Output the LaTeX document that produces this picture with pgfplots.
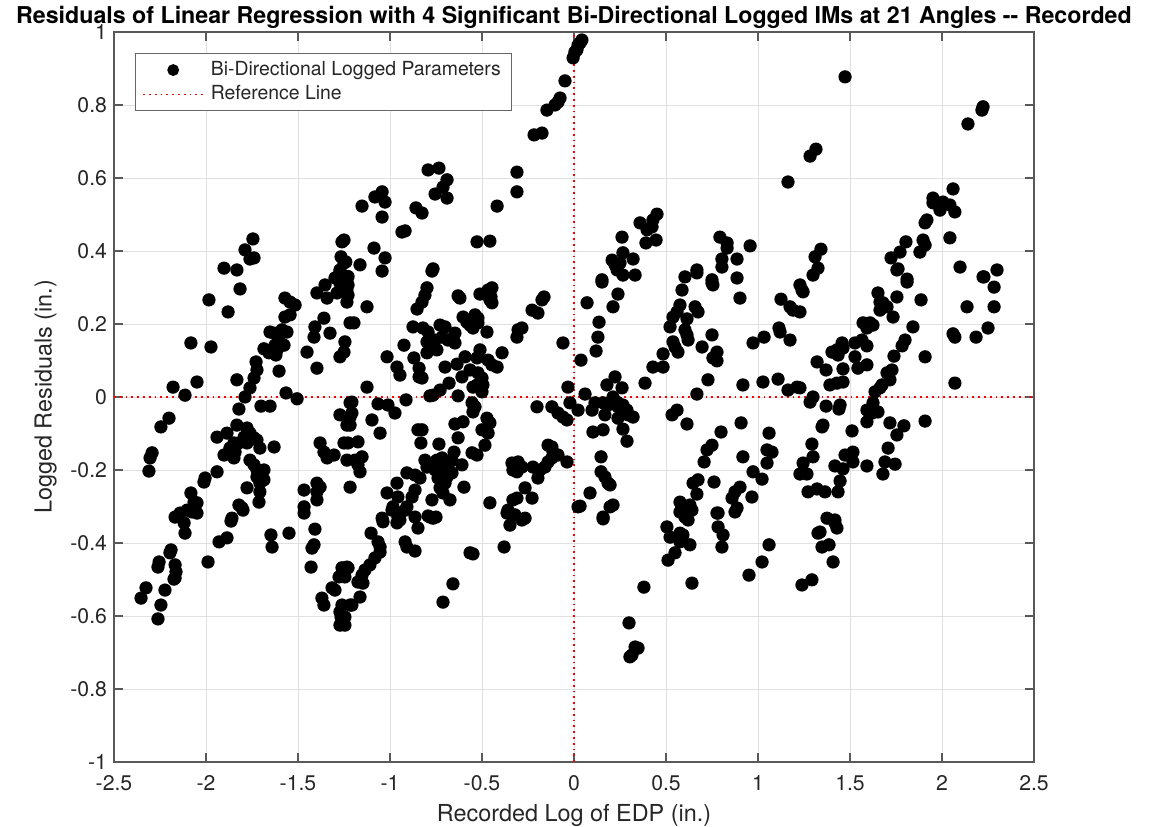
\documentclass[border=0pt]{standalone}
\usepackage{pgfplots}
\pgfplotsset{compat=1.18}
\usepackage{pgfplotstable}
\usepackage{fontspec}
\setmainfont{TeX Gyre Heros}

% Residuals (x: recorded log EDP, y: logged residual)
\pgfplotstableread{
x y
-1.902 0.353
-1.832 0.348
-1.788 0.403
-1.745 0.433
-1.761 0.378
-1.739 0.381
-1.261 0.425
-1.250 0.430
-1.266 0.384
-1.250 0.367
-1.272 0.348
-1.234 0.329
-1.288 0.329
-1.240 0.370
-1.228 0.330
-1.163 0.362
-1.152 0.523
-1.082 0.548
-1.043 0.562
-1.027 0.534
-1.043 0.493
-1.087 0.408
-1.027 0.381
-1.043 0.345
-0.935 0.452
-0.918 0.455
-0.859 0.518
-0.826 0.504
-0.772 0.345
-0.766 0.351
-0.793 0.622
-0.734 0.627
-0.690 0.595
-0.712 0.575
-0.755 0.556
-0.690 0.545
-0.527 0.425
-0.457 0.427
-0.418 0.523
-0.310 0.616
-0.310 0.562
-0.217 0.718
-0.174 0.723
-0.147 0.786
-0.103 0.800
-0.076 0.819
-0.087 0.808
-0.049 0.866
-0.005 0.929
0.005 0.945
0.022 0.964
0.016 0.951
0.033 0.970
0.043 0.978
1.163 0.589
0.152 0.321
0.207 0.375
0.223 0.362
0.266 0.395
0.321 0.378
0.266 0.334
0.332 0.334
0.250 0.367
0.234 0.348
0.261 0.438
0.359 0.477
0.397 0.458
0.424 0.466
0.451 0.501
0.429 0.485
0.391 0.422
0.446 0.430
0.603 0.329
0.668 0.348
0.793 0.438
0.832 0.422
0.832 0.408
0.804 0.378
0.804 0.356
0.886 0.378
0.957 0.414
0.750 0.321
0.886 0.326
1.473 0.877
1.283 0.660
1.315 0.679
2.141 0.748
2.217 0.786
2.223 0.795
2.060 0.570
1.951 0.545
1.951 0.532
2.005 0.534
1.989 0.512
2.043 0.526
2.070 0.507
1.918 0.485
1.908 0.477
2.043 0.436
1.804 0.425
1.772 0.397
1.723 0.381
1.897 0.430
1.908 0.416
1.880 0.397
1.342 0.405
1.310 0.384
1.326 0.353
1.299 0.334
1.761 0.351
2.098 0.356
2.223 0.329
2.299 0.348
1.810 0.323
-1.815 0.296
-1.984 0.266
-1.880 0.233
-2.082 0.148
-1.973 0.137
-2.179 0.027
-2.049 0.041
-2.114 0.005
-2.201 -0.058
-2.245 -0.082
-2.293 -0.153
-2.304 -0.167
-2.310 -0.203
-1.832 0.047
-1.761 0.025
-1.788 0.000
-1.821 -0.033
-1.739 0.052
-1.723 0.074
-1.728 0.096
-1.685 0.132
-1.658 0.121
-1.620 0.115
-1.614 0.129
-1.576 0.142
-1.625 0.142
-1.652 0.178
-1.630 0.175
-1.587 0.184
-1.560 0.178
-1.603 0.164
-1.603 0.071
-1.571 0.219
-1.543 0.225
-1.571 0.271
-1.543 0.260
-1.516 0.252
-1.565 0.011
-1.505 -0.005
-1.701 -0.025
-1.652 -0.025
-1.832 -0.077
-1.777 -0.085
-1.761 -0.099
-1.739 -0.112
-1.793 -0.110
-1.821 -0.126
-1.848 -0.126
-1.870 -0.140
-1.842 -0.151
-1.777 -0.126
-1.723 -0.118
-1.707 -0.140
-1.886 -0.099
-1.940 -0.110
-1.902 -0.159
-1.848 -0.167
-1.630 -0.137
-1.761 -0.173
-1.739 -0.186
-1.723 -0.200
-1.685 -0.200
-1.723 -0.219
-1.707 -0.236
-1.685 -0.227
-1.777 -0.249
-1.707 -0.260
-1.712 -0.288
-1.940 -0.205
-2.011 -0.233
-2.005 -0.222
-2.082 -0.263
-2.065 -0.288
-2.049 -0.290
-2.103 -0.310
-2.141 -0.318
-2.168 -0.329
-1.821 -0.296
-1.804 -0.304
-1.859 -0.332
-1.397 0.285
-1.353 0.307
-1.299 0.326
-1.272 0.312
-1.234 0.321
-1.234 0.293
-1.288 0.285
-1.234 0.260
-1.342 0.271
-1.408 0.192
-1.413 0.164
-1.359 0.216
-1.326 0.175
-1.451 0.123
-1.397 0.079
-1.245 0.151
-1.250 0.123
-1.272 0.110
-1.217 0.203
-1.217 -0.016
-1.272 -0.049
-1.234 -0.077
-1.217 -0.055
-1.380 -0.126
-1.359 -0.151
-1.342 -0.167
-1.304 -0.159
-1.250 -0.126
-1.234 -0.173
-1.397 -0.236
-1.380 -0.247
-1.467 -0.255
-1.397 -0.260
-1.397 -0.282
-1.467 -0.301
-1.467 -0.318
-1.217 -0.247
-1.228 0.307
-1.228 0.279
-1.125 0.247
-1.196 0.203
-0.799 0.299
-0.810 0.279
-0.826 0.260
-0.853 0.241
-0.630 0.277
-0.620 0.271
-0.511 0.282
-0.467 0.293
-0.446 0.299
-0.451 0.274
-0.446 0.258
-0.457 0.266
-0.603 0.219
-0.582 0.205
-0.565 0.197
-0.549 0.189
-0.538 0.225
-0.522 0.216
-0.522 0.203
-0.565 0.211
-0.473 0.178
-0.875 0.192
-0.821 0.189
-0.793 0.178
-0.728 0.197
-0.701 0.192
-0.717 0.164
-0.685 0.156
-0.647 0.175
-0.647 0.148
-0.755 0.156
-0.772 0.142
-0.799 0.151
-0.745 0.129
-0.799 0.121
-0.924 0.142
-1.016 0.110
-0.962 0.082
-0.946 0.060
-0.870 0.107
-0.842 0.079
-0.842 0.055
-0.826 0.052
-0.701 0.082
-0.636 0.090
-0.592 0.110
-0.527 0.107
-0.511 0.129
-0.467 0.101
-0.446 0.088
-0.418 0.082
-0.391 0.121
-0.565 0.074
-0.609 0.055
-0.522 0.066
-0.500 0.052
-0.527 0.033
-0.495 0.033
-0.549 0.027
-0.500 0.014
-0.679 0.038
-0.728 0.019
-0.766 0.005
-0.783 0.003
-0.630 0.003
-1.125 0.027
-0.913 -0.008
-1.065 -0.019
-1.011 -0.022
-0.973 -0.044
-1.207 -0.014
-1.207 -0.044
-1.217 -0.077
-1.174 -0.123
-1.228 -0.126
-1.152 -0.164
-1.190 -0.173
-1.174 -0.186
-1.163 -0.205
-1.098 -0.063
-1.054 -0.099
-0.554 -0.016
-0.549 -0.041
-0.538 -0.027
-0.473 -0.058
-0.457 -0.071
-0.500 -0.090
-0.467 -0.099
-0.484 -0.132
-0.647 -0.074
-0.603 -0.068
-0.848 -0.090
-0.826 -0.090
-0.832 -0.126
-0.734 -0.129
-0.630 -0.112
-0.652 -0.151
-0.554 -0.153
-0.527 -0.159
-0.810 -0.173
-0.799 -0.192
-0.772 -0.181
-0.745 -0.173
-0.717 -0.167
-0.701 -0.178
-0.685 -0.192
-0.663 -0.173
-0.755 -0.200
-0.717 -0.208
-0.690 -0.219
-0.739 -0.222
-0.701 -0.236
-0.728 -0.249
-0.712 -0.263
-0.674 -0.282
-0.772 -0.282
-0.663 -0.208
-0.609 -0.186
-0.598 -0.247
-0.908 -0.208
-0.864 -0.214
-0.837 -0.222
-0.864 -0.255
-0.880 -0.274
-0.962 -0.236
-1.016 -0.263
-0.957 -0.274
-0.984 -0.301
-0.908 -0.301
-0.946 -0.318
-1.043 -0.332
-0.864 -0.329
-0.783 -0.329
-0.766 -0.332
-0.457 -0.290
-0.337 -0.181
-0.304 -0.178
-0.283 -0.192
-0.332 -0.200
-0.310 -0.205
-0.266 -0.249
-0.228 -0.277
-0.332 -0.282
-0.310 -0.277
-0.359 -0.310
-0.337 -0.323
-0.223 -0.192
-0.185 -0.200
-0.158 -0.192
-0.141 -0.178
-0.120 -0.167
-0.114 -0.151
-0.087 -0.159
-0.141 -0.132
-0.120 -0.137
-0.038 -0.178
-0.196 -0.222
-0.201 -0.027
-0.120 -0.027
-0.087 -0.044
-0.060 -0.055
-0.038 -0.063
-0.033 0.027
-0.022 -0.016
0.022 -0.036
0.022 -0.301
-0.060 0.148
-0.304 0.184
-0.310 0.164
-0.283 0.189
-0.228 0.238
-0.196 0.230
-0.174 0.266
-0.163 0.274
0.152 0.315
0.239 0.282
0.212 0.247
0.071 0.258
0.136 0.205
0.130 0.164
0.120 0.126
0.038 0.101
0.060 0.008
0.179 0.033
0.223 0.055
0.261 0.025
0.212 0.000
0.234 -0.014
0.185 -0.022
0.158 -0.016
0.114 -0.016
0.098 -0.036
0.168 -0.049
0.239 -0.027
0.266 -0.022
0.288 -0.036
0.293 -0.049
0.321 -0.055
0.239 -0.058
0.158 -0.090
0.103 -0.096
0.266 -0.088
0.288 -0.121
0.386 0.038
0.429 0.082
0.484 0.082
0.484 0.118
0.522 0.192
0.538 0.151
0.549 0.137
0.565 0.123
0.538 0.219
0.560 0.233
0.576 0.252
0.587 0.293
0.668 0.340
0.614 0.214
0.603 0.184
0.614 0.170
0.620 0.156
0.658 0.247
0.674 0.233
0.696 0.137
0.750 0.170
0.777 0.123
0.755 0.107
0.777 0.099
0.750 0.312
0.755 0.307
0.902 0.271
0.728 0.047
0.668 0.008
0.918 0.033
1.027 0.041
1.109 0.049
1.163 0.019
1.212 0.027
0.973 0.148
1.033 0.164
1.114 0.189
1.120 0.178
1.174 0.156
1.125 0.268
1.174 0.247
1.190 0.238
1.228 0.307
1.239 0.293
0.533 -0.049
0.560 -0.036
0.614 -0.074
0.908 -0.071
0.799 -0.096
1.060 -0.099
0.750 -0.132
0.723 -0.145
0.707 -0.178
0.918 -0.164
1.049 -0.145
1.076 -0.151
1.049 -0.181
0.973 -0.205
1.022 -0.225
1.228 -0.211
1.245 -0.181
0.147 -0.164
0.147 -0.205
0.168 -0.219
0.185 -0.236
0.196 -0.241
0.087 -0.263
0.033 -0.299
0.196 -0.301
0.212 -0.296
0.158 -0.329
0.647 -0.236
0.674 -0.227
0.668 -0.266
0.576 -0.288
0.592 -0.301
0.630 -0.296
0.603 -0.315
0.641 -0.310
0.761 -0.233
0.875 -0.260
0.902 -0.247
0.859 -0.277
0.886 -0.304
0.875 -0.315
0.967 -0.274
0.783 -0.318
1.245 0.288
1.228 0.233
1.652 0.285
1.663 0.260
1.679 0.258
1.663 0.238
1.701 0.247
1.755 0.274
1.810 0.315
1.755 0.348
1.886 0.266
1.734 0.219
1.571 0.203
1.609 0.203
1.625 0.197
1.592 0.189
1.842 0.192
1.799 0.156
1.783 0.140
1.908 0.110
1.527 0.148
1.565 0.156
1.592 0.140
1.527 0.110
1.543 0.079
1.592 0.088
1.739 0.112
1.402 0.123
1.429 0.129
1.457 0.148
1.435 0.115
1.462 0.134
1.321 0.096
1.370 0.074
1.462 0.077
1.391 0.033
1.429 0.038
1.462 0.041
1.728 0.074
1.701 0.066
1.717 0.047
1.674 0.033
1.663 0.025
1.636 0.014
2.070 0.038
1.228 0.025
1.299 0.000
1.283 -0.014
1.370 -0.025
1.446 -0.022
1.440 -0.033
1.625 -0.016
1.592 -0.036
1.620 -0.044
1.652 -0.041
1.592 -0.068
1.717 -0.071
1.755 -0.104
1.793 -0.079
1.908 -0.066
1.353 -0.077
1.348 -0.082
1.511 -0.093
1.293 -0.129
1.299 -0.164
1.473 -0.159
1.516 -0.151
1.516 -0.178
1.418 -0.189
1.462 -0.197
1.592 -0.189
1.707 -0.140
1.690 -0.178
1.745 -0.184
1.679 -0.211
1.446 -0.230
1.435 -0.260
1.364 -0.260
1.321 -0.252
1.272 -0.260
1.266 -0.211
1.239 -0.208
1.375 -0.332
1.418 -0.337
2.060 0.173
2.070 0.164
2.136 0.247
2.185 0.164
2.250 0.189
2.283 0.247
2.283 0.301
2.228 0.329
-2.076 -0.315
-2.049 -0.318
-2.119 -0.345
-2.114 -0.373
-2.190 -0.419
-2.196 -0.427
-2.255 -0.452
-2.261 -0.466
-2.168 -0.460
-2.163 -0.479
-2.168 -0.496
-2.174 -0.499
-2.326 -0.523
-2.353 -0.551
-2.223 -0.529
-2.245 -0.570
-2.261 -0.608
-1.989 -0.452
-1.929 -0.397
-1.886 -0.386
-1.864 -0.340
-1.799 -0.310
-1.647 -0.378
-1.641 -0.411
-1.549 -0.373
-1.408 -0.362
-1.413 -0.405
-1.424 -0.414
-1.429 -0.466
-1.370 -0.551
-1.359 -0.570
-1.315 -0.523
-1.299 -0.529
-1.277 -0.493
-1.250 -0.479
-1.261 -0.468
-1.234 -0.466
-1.261 -0.570
-1.272 -0.589
-1.266 -0.603
-1.272 -0.625
-1.217 -0.570
-0.989 -0.310
-0.957 -0.329
-0.962 -0.345
-0.946 -0.337
-0.918 -0.310
-1.038 -0.342
-1.103 -0.373
-1.065 -0.397
-1.054 -0.411
-1.054 -0.425
-1.082 -0.441
-1.109 -0.460
-1.136 -0.474
-1.152 -0.488
-1.174 -0.507
-1.147 -0.510
-1.163 -0.548
-1.207 -0.570
-1.228 -0.468
-1.245 -0.493
-1.245 -0.603
-1.245 -0.625
-0.918 -0.397
-0.908 -0.411
-0.864 -0.422
-0.848 -0.359
-0.793 -0.326
-0.750 -0.329
-0.565 -0.427
-0.549 -0.430
-0.658 -0.512
-0.712 -0.562
-0.380 -0.411
-0.364 -0.318
-0.348 -0.351
-0.321 -0.323
-0.283 -0.337
-0.266 -0.332
0.158 -0.334
0.380 -0.521
0.299 -0.619
0.332 -0.685
0.348 -0.688
0.315 -0.707
0.304 -0.712
0.505 -0.356
0.522 -0.384
0.576 -0.373
0.592 -0.378
0.576 -0.397
0.630 -0.405
0.549 -0.427
0.511 -0.447
0.576 -0.315
0.603 -0.329
0.620 -0.337
0.641 -0.510
0.777 -0.318
0.783 -0.356
0.810 -0.378
0.804 -0.411
0.951 -0.488
1.022 -0.452
1.060 -0.405
1.239 -0.515
1.418 -0.345
1.429 -0.359
1.326 -0.373
1.337 -0.370
1.348 -0.411
1.386 -0.405
1.408 -0.452
1.293 -0.501
}\residuals

\definecolor{axgray}{gray}{0.15}
\definecolor{axline}{gray}{0.35}
\definecolor{gridgray}{gray}{0.88}

% legend pictograms: one dot centred in a 30pt cell, and a 30pt line
\pgfplotsset{
  resid dot legend/.style={legend image code/.code={%
    \draw[mark repeat=2, mark phase=2, mark size=2.7pt, ##1] plot coordinates {(0pt,0pt) (15pt,0pt) (30pt,0pt)};}},
  ref line legend/.style={legend image code/.code={%
    \draw[##1] (0pt,0pt) -- (30pt,0pt);}},
}

\begin{document}
\begin{tikzpicture}
\begin{axis}[
  scale only axis,
  width=460pt, height=365pt,
  xmin=-2.5, xmax=2.5, ymin=-1, ymax=1,
  xtick={-2.5,-2,-1.5,-1,-0.5,0,0.5,1,1.5,2,2.5},
  ytick={-1,-0.8,-0.6,-0.4,-0.2,0,0.2,0.4,0.6,0.8,1},
  /pgf/number format/assume math mode=true,
  grid=major,
  major grid style={gridgray, line width=0.4pt},
  axis line style={axline, line width=0.6pt},
  tick style={axline, line width=0.6pt},
  tick align=inside,
  tick pos=both,
  major tick length=4.5pt,
  ticklabel style={font=\fontsize{10.6}{12}\selectfont, text=axgray},
  xticklabel style={yshift=-3pt},
  every axis title shift=0pt,
  title={\bfseries Residuals of Linear Regression with 4 Significant Bi-Directional Logged IMs at 21 Angles -{}- Recorded},
  title style={font=\fontsize{11.6}{13}\selectfont, text=black, at={(0.5,1)}, anchor=base, yshift=4pt},
  xlabel={Recorded Log of EDP (in.)},
  ylabel={Logged Residuals (in.)},
  label style={font=\fontsize{11.7}{13}\selectfont, text=axgray},
  legend cell align=left,
  legend style={
    at={(0,1)}, anchor=north west, xshift=10.5pt, yshift=-10.5pt,
    font=\fontsize{9.7}{11}\selectfont, text=axgray,
    draw=black!60, line width=0.5pt, fill=white,
    inner xsep=3.5pt, inner ysep=2pt, row sep=-0.5pt,
    /tikz/every odd column/.append style={column sep=1.5pt},
  },
]
\addplot[only marks, mark=*, mark size=3.1pt, black, resid dot legend]
  table {\residuals};
\addlegendentry{Bi-Directional Logged Parameters}
\addplot[red, line width=0.7pt, dash pattern=on 0.9pt off 2pt, ref line legend]
  coordinates {(-2.5,0) (2.5,0)};
\addlegendentry{Reference Line}
\addplot[red, line width=0.7pt, dash pattern=on 0.9pt off 2pt, forget plot]
  coordinates {(0,-1) (0,1)};
\end{axis}
\pgfresetboundingbox
\useasboundingbox ([shift={(-57pt,-32.5pt)}]current axis.south west) rectangle ([shift={(58pt,16pt)}]current axis.north east);
\end{tikzpicture}
\end{document}
